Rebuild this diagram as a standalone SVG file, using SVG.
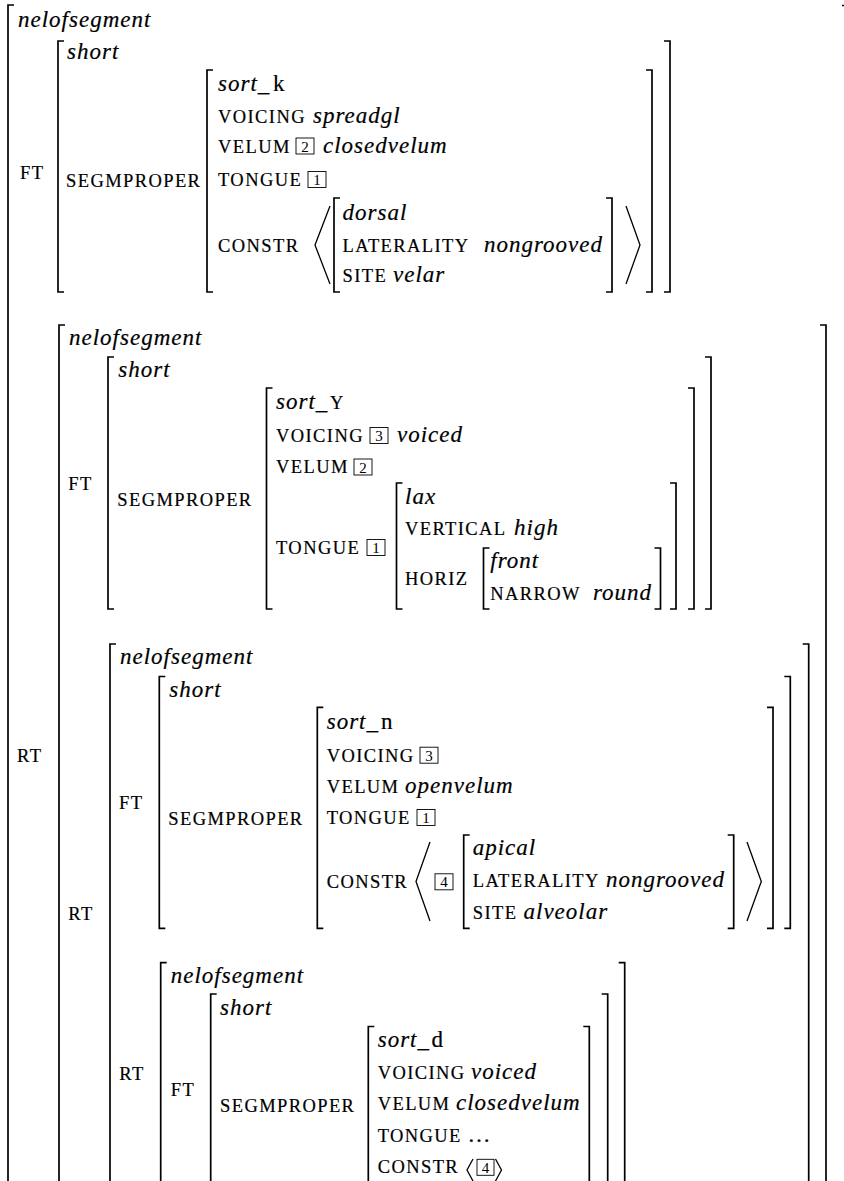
<svg xmlns="http://www.w3.org/2000/svg" width="844" height="1181" viewBox="0 0 844 1181">
<style>
.b{fill:none;stroke:#000;stroke-width:1.7}
.a{fill:none;stroke:#000;stroke-width:1.3}
.x{fill:none;stroke:#000;stroke-width:0.9}
text{fill:#000;stroke:#000;stroke-width:0.2}
.i{font-family:"Liberation Serif",serif;font-style:italic;font-size:23px;letter-spacing:1px}
.c{font-family:"Liberation Serif",serif;font-size:18.5px;letter-spacing:1.4px}
.r{font-family:"Liberation Serif",serif;font-size:23px}
.n{font-family:"Liberation Serif",serif;font-size:15px;text-anchor:middle;stroke-width:0}
.e{text-anchor:end}
</style>
<rect width="844" height="1181" fill="#fff"/>

<g id="m1">
<path class="b" d="M14 5H8V1185"/>
<path class="b" d="M842 5.5H852"/>
<text class="i" x="18" y="27">nelofsegment</text>
<text class="c" x="20" y="179">FT</text>
<text class="c" x="17" y="762">RT</text>
</g>

<g id="m1-ft">
<path class="b" d="M64 41H58V292H64"/>
<path class="b" d="M664 41H670V292H664"/>
<text class="i" x="67" y="59">short</text>
<text class="c" x="66" y="187">SEGMPROPER</text>
</g>

<g id="m1-seg">
<path class="b" d="M213 70H207V292H213"/>
<path class="b" d="M646 70H652V292H646"/>
<text class="i" x="218" y="90.7">sort_<tspan class="r" font-style="normal" letter-spacing="0" x="273">k</tspan></text>
<text class="c" x="218" y="122.5">VOICING</text>
<text class="i" x="313" y="122.5">spreadgl</text>
<text class="c" x="218" y="152.5">VELUM</text>
<rect class="x" x="296" y="138" width="18" height="16"/>
<text class="n" x="305" y="151.5">2</text>
<text class="i" x="323" y="152.5">closedvelum</text>
<text class="c" x="218" y="186">TONGUE</text>
<rect class="x" x="308" y="171.5" width="18" height="16"/>
<text class="n" x="317" y="185">1</text>
<text class="c" x="218" y="251.7">CONSTR</text>
<path class="a" d="M330 206L315 245L330 284"/>
<path class="a" d="M626 206L640 245L626 284"/>
</g>

<g id="m1-constr">
<path class="b" d="M340 198H334V292H340"/>
<path class="b" d="M606 198H612V292H606"/>
<text class="i" x="342.5" y="220">dorsal</text>
<text class="c" x="342.5" y="251.7">LATERALITY</text>
<text class="i e" x="603" y="251.7">nongrooved</text>
<text class="c" x="342.5" y="281.7">SITE</text>
<text class="i" x="393" y="281.7">velar</text>
</g>

<g id="m2">
<path class="b" d="M65 325H59V1185"/>
<path class="b" d="M820 325H826V1185"/>
<text class="i" x="69" y="345">nelofsegment</text>
<text class="c" x="68.3" y="490">FT</text>
<text class="c" x="68.3" y="920">RT</text>
</g>

<g id="m2-ft">
<path class="b" d="M114 357H108V609H114"/>
<path class="b" d="M705 357H711V609H705"/>
<text class="i" x="118.3" y="377.3">short</text>
<text class="c" x="117.3" y="506">SEGMPROPER</text>
</g>

<g id="m2-seg">
<path class="b" d="M272.5 388H266.5V609H272.5"/>
<path class="b" d="M688 388H694V609H688"/>
<text class="i" x="276" y="409.3">sort_<tspan class="c" font-style="normal" x="330">Y</tspan></text>
<text class="c" x="276" y="441.7">VOICING</text>
<rect class="x" x="370" y="427.5" width="18" height="16"/>
<text class="n" x="379" y="441">3</text>
<text class="i" x="397" y="441.7">voiced</text>
<text class="c" x="276" y="473.3">VELUM</text>
<rect class="x" x="354" y="459" width="18" height="16"/>
<text class="n" x="363" y="472.5">2</text>
<text class="c" x="276" y="554">TONGUE</text>
<rect class="x" x="367" y="539.5" width="18" height="16"/>
<text class="n" x="376" y="553">1</text>
</g>

<g id="m2-tongue">
<path class="b" d="M402.5 483H396.5V609H402.5"/>
<path class="b" d="M670 483H676V609H670"/>
<text class="i" x="405" y="504">lax</text>
<text class="c" x="405" y="535">VERTICAL</text>
<text class="i" x="514" y="535">high</text>
<text class="c" x="405" y="585">HORIZ</text>
</g>

<g id="m2-horiz">
<path class="b" d="M489.5 548H483.5V609H489.5"/>
<path class="b" d="M654.5 548H660.5V609H654.5"/>
<text class="i" x="490.3" y="568.3">front</text>
<text class="c" x="490.3" y="600">NARROW</text>
<text class="i e" x="652" y="600">round</text>
</g>

<g id="m3">
<path class="b" d="M116 644H110V1185"/>
<path class="b" d="M802.7 644H808.7V1185"/>
<text class="i" x="120" y="664.3">nelofsegment</text>
<text class="c" x="119" y="809.3">FT</text>
<text class="c" x="119.3" y="1080">RT</text>
</g>

<g id="m3-ft">
<path class="b" d="M165.3 676.5H159.3V928.3H165.3"/>
<path class="b" d="M784.3 676.5H790.3V928.3H784.3"/>
<text class="i" x="169.3" y="696.7">short</text>
<text class="c" x="168.3" y="825">SEGMPROPER</text>
</g>

<g id="m3-seg">
<path class="b" d="M323.3 707.3H317.3V928.3H323.3"/>
<path class="b" d="M767 707.3H773V928.3H767"/>
<text class="i" x="326.7" y="729.3">sort_<tspan class="r" font-style="normal" letter-spacing="0" x="381">n</tspan></text>
<text class="c" x="326.7" y="761.7">VOICING</text>
<rect class="x" x="420" y="747.2" width="18" height="16"/>
<text class="n" x="429" y="760.7">3</text>
<text class="c" x="326.7" y="792.7">VELUM</text>
<text class="i" x="405" y="792.7">openvelum</text>
<text class="c" x="326.7" y="824">TONGUE</text>
<rect class="x" x="417" y="809.5" width="18" height="16"/>
<text class="n" x="426" y="823">1</text>
<text class="c" x="326.7" y="888.3">CONSTR</text>
<path class="a" d="M430 842L416 881.5L430 921"/>
<rect class="x" x="435" y="873.8" width="18" height="16"/>
<text class="n" x="444" y="887.3">4</text>
<path class="a" d="M747 842L761.3 881.5L747 921"/>
</g>

<g id="m3-constr">
<path class="b" d="M469.7 835H463.7V928.3H469.7"/>
<path class="b" d="M727.7 835H733.7V928.3H727.7"/>
<text class="i" x="472.7" y="855">apical</text>
<text class="c" x="472.7" y="886.7">LATERALITY</text>
<text class="i e" x="725" y="886.7">nongrooved</text>
<text class="c" x="472.7" y="919.3">SITE</text>
<text class="i" x="523.5" y="919.3">alveolar</text>
</g>

<g id="m4">
<path class="b" d="M166.7 962.7H160.7V1185"/>
<path class="b" d="M618.7 962.7H624.7V1185"/>
<text class="i" x="170.7" y="983.3">nelofsegment</text>
<text class="c" x="170.7" y="1096">FT</text>
</g>

<g id="m4-ft">
<path class="b" d="M216.7 994H210.7V1185"/>
<path class="b" d="M601.7 994H607.7V1185"/>
<text class="i" x="220" y="1015">short</text>
<text class="c" x="220" y="1111.7">SEGMPROPER</text>
</g>

<g id="m4-seg">
<path class="b" d="M374.3 1026.5H368.3V1185"/>
<path class="b" d="M583.3 1026.5H589.3V1185"/>
<text class="i" x="377.7" y="1046.7">sort_<tspan class="r" font-style="normal" letter-spacing="0" x="431.5">d</tspan></text>
<text class="c" x="377.7" y="1079.3">VOICING</text>
<text class="i" x="471" y="1079.3">voiced</text>
<text class="c" x="377.7" y="1110">VELUM</text>
<text class="i" x="456" y="1110">closedvelum</text>
<text class="c" x="377.7" y="1141.7">TONGUE</text>
<text class="r" x="467.5" y="1141.7">…</text>
<text class="c" x="377.7" y="1173.3">CONSTR</text>
<path class="a" d="M473 1159L467 1170L473 1181"/>
<rect class="x" x="477" y="1159.3" width="17" height="16"/>
<text class="n" x="485.5" y="1172.8">4</text>
<path class="a" d="M495.5 1159L501.5 1170L495.5 1181"/>
</g>
</svg>
